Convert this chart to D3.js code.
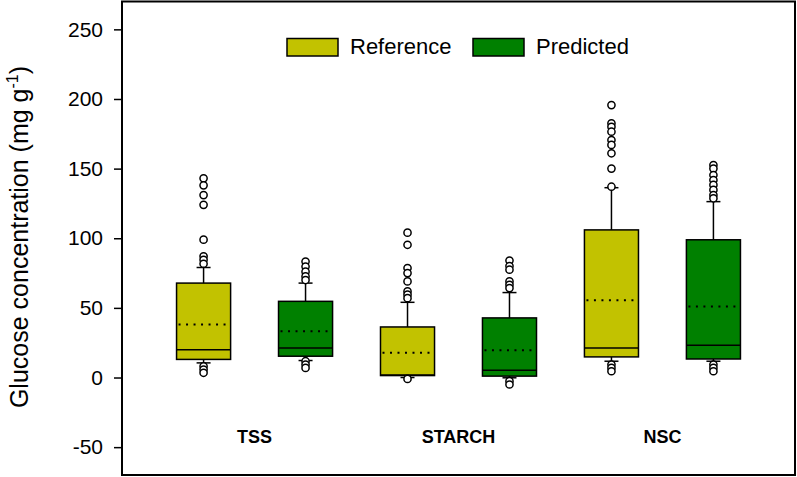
<!DOCTYPE html>
<html>
<head>
<meta charset="utf-8">
<script src="https://cdn.jsdelivr.net/npm/d3@7"></script>
<style>
  body { margin: 0; background: #fff; }
  text { font-family: Arial, "Liberation Sans", sans-serif; fill: #000; }
</style>
</head>
<body>
<script>
// chart values
var categories = ["TSS", "STARCH", "NSC"];
var seriesNames = ["Reference", "Predicted"];
var seriesColors = ["#c2c200", "#008000"];
var yTicks = [-50, 0, 50, 100, 150, 200, 250];

// one entry per box: [TSS ref, TSS pred, STARCH ref, STARCH pred, NSC ref, NSC pred]
var boxCategory = ["TSS", "TSS", "STARCH", "STARCH", "NSC", "NSC"];
var boxSeries   = [0, 1, 0, 1, 0, 1];
var q1          = [13, 15.3, 1.4, 1, 14.8, 13.3];
var median      = [20, 21.2, 1.8, 5.2, 21.2, 23.1];
var q3          = [67.8, 54.7, 36.3, 42.8, 106, 98.9];
var mean        = [38, 33.2, 17.7, 19.6, 55.4, 51];
var whiskerLow  = [10.5, 12.2, 0, -0.2, 11.7, 11.7];
var whiskerHigh = [79, 67.8, 54, 61, 136.3, 126.3];
var outliers = [
    [143, 138, 131, 124, 99, 87, 84.5, 81.7, 8, 5.7, 3.4],
    [83.3, 79.7, 76, 72.6, 70, 11.7, 9.3, 6.9],
    [104, 95.3, 78.6, 75, 69, 61.8, 59.5, 57, -1],
    [84, 80, 77.4, 69, 66.6, 64.2, -2.6, -5],
    [195.6, 182.5, 180, 176.5, 170.5, 167, 161, 150, 137, 9.3, 6.9, 4.5],
    [152.6, 150, 145.4, 141.8, 138.3, 134.7, 131, 128.7, 9.3, 6.9, 4.5]
];

var totalWidth = 797;
var totalHeight = 477;
var margin = {top: 1.5, right: 2, bottom: 2, left: 122};

var boxOffset = 0.25;   // in category units
var boxWidth = 0.265;
var capWidth = 14;

var svg = d3.select("body").append("svg")
    .attr("width", totalWidth)
    .attr("height", totalHeight);

var xScale = d3.scaleLinear()
    .domain([0.35, 3.65])
    .range([margin.left, totalWidth - margin.right]);

var yScale = d3.scaleLinear()
    .domain([-70, 270])
    .range([totalHeight - margin.bottom, margin.top]);

var catIndex = d => categories.indexOf(d) + 1;

var plotData = boxCategory.map((c, i) => ({
    cat: c,
    s: boxSeries[i],
    center: catIndex(c) + (boxSeries[i] === 0 ? -boxOffset : boxOffset),
    q1: q1[i], median: median[i], q3: q3[i], mean: mean[i],
    lo: whiskerLow[i], hi: whiskerHigh[i],
    out: outliers[i]
}));

var g = svg.append("g");

// whiskers
g.selectAll(".whiskerUp").data(plotData).enter().append("line")
    .attr("x1", d => xScale(d.center)).attr("x2", d => xScale(d.center))
    .attr("y1", d => yScale(d.q3)).attr("y2", d => yScale(d.hi))
    .attr("stroke", "#000").attr("stroke-width", 1.5);
g.selectAll(".whiskerDown").data(plotData).enter().append("line")
    .attr("x1", d => xScale(d.center)).attr("x2", d => xScale(d.center))
    .attr("y1", d => yScale(d.q1)).attr("y2", d => yScale(d.lo))
    .attr("stroke", "#000").attr("stroke-width", 1.5);

["hi", "lo"].forEach(k => {
    g.selectAll(".cap-" + k).data(plotData).enter().append("line")
        .attr("x1", d => xScale(d.center) - capWidth / 2)
        .attr("x2", d => xScale(d.center) + capWidth / 2)
        .attr("y1", d => yScale(d[k])).attr("y2", d => yScale(d[k]))
        .attr("stroke", "#000").attr("stroke-width", 1.5);
});

// boxes
g.selectAll("rect.box").data(plotData).enter().append("rect")
    .attr("class", "box")
    .attr("x", d => xScale(d.center - boxWidth / 2))
    .attr("width", d => xScale(d.center + boxWidth / 2) - xScale(d.center - boxWidth / 2))
    .attr("y", d => yScale(d.q3))
    .attr("height", d => yScale(d.q1) - yScale(d.q3))
    .attr("fill", d => seriesColors[d.s])
    .attr("stroke", "#000").attr("stroke-width", 1.5);

// median
g.selectAll(".median").data(plotData).enter().append("line")
    .attr("x1", d => xScale(d.center - boxWidth / 2))
    .attr("x2", d => xScale(d.center + boxWidth / 2))
    .attr("y1", d => yScale(d.median)).attr("y2", d => yScale(d.median))
    .attr("stroke", "#000").attr("stroke-width", 1.5);

// mean (dotted)
g.selectAll(".mean").data(plotData).enter().append("line")
    .attr("x1", d => xScale(d.center - boxWidth / 2) + 2)
    .attr("x2", d => xScale(d.center + boxWidth / 2) - 2)
    .attr("y1", d => yScale(d.mean)).attr("y2", d => yScale(d.mean))
    .attr("stroke", "#000").attr("stroke-width", 2)
    .attr("stroke-dasharray", "2,5.5");

// outliers
plotData.forEach(d => {
    g.selectAll(null).data(d.out).enter().append("circle")
        .attr("cx", xScale(d.center))
        .attr("cy", v => yScale(v))
        .attr("r", 3.6)
        .attr("fill", "#fff")
        .attr("stroke", "#000").attr("stroke-width", 1.5);
});

// frame
svg.append("rect")
    .attr("x", margin.left).attr("y", margin.top)
    .attr("width", totalWidth - margin.right - margin.left)
    .attr("height", totalHeight - margin.bottom - margin.top)
    .attr("fill", "none").attr("stroke", "#000").attr("stroke-width", 2);

// y axis
var yAxis = svg.append("g")
    .attr("transform", "translate(" + margin.left + ",0)")
    .call(d3.axisLeft(yScale).tickValues(yTicks).tickSize(8).tickPadding(11).tickFormat(d => String(d)));
yAxis.select(".domain").remove();
yAxis.selectAll("line").attr("stroke", "#000").attr("stroke-width", 1.5);
yAxis.selectAll("text").attr("font-size", 21).attr("font-family", "Arial, 'Liberation Sans', sans-serif").attr("fill", "#000");

// category labels
svg.selectAll(".catLabel").data(categories).enter().append("text")
    .attr("x", d => xScale(catIndex(d)))
    .attr("y", 443)
    .attr("text-anchor", "middle")
    .attr("font-size", 18).attr("font-weight", "bold")
    .text(d => d);

// y title
var title = svg.append("text")
    .attr("transform", "translate(28," + 237 + ") rotate(-90)")
    .attr("text-anchor", "middle")
    .attr("font-size", 25);
title.append("tspan").text("Glucose concentration (mg g");
title.append("tspan").attr("font-size", 16).attr("dy", -10).text("-1");
title.append("tspan").attr("dy", 10).text(")");

// legend
var legend = svg.append("g");
var legendX = [287, 473];
seriesNames.forEach((name, i) => {
    legend.append("rect")
        .attr("x", legendX[i]).attr("y", 38.5)
        .attr("width", 51).attr("height", 17.5)
        .attr("fill", seriesColors[i])
        .attr("stroke", "#000").attr("stroke-width", 1.5);
    legend.append("text")
        .attr("x", legendX[i] + 63).attr("y", 54)
        .attr("font-size", 22)
        .text(name);
});
</script>
</body>
</html>
